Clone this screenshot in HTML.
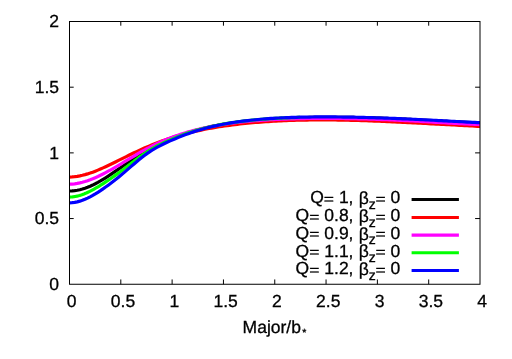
<!DOCTYPE html>
<html><head><meta charset="utf-8"><title>plot</title>
<style>
html,body{margin:0;padding:0;background:#fff;}
body{width:512px;height:359px;overflow:hidden;position:relative;}
svg text{font-family:"Liberation Sans",sans-serif;fill:#000;stroke:#000;stroke-width:0.3px;text-rendering:geometricPrecision;font-kerning:none;white-space:pre;}
</style></head><body>
<svg width="512" height="359" viewBox="0 0 512 359" style="position:absolute;left:0;top:0;will-change:transform;opacity:0.999">
<rect width="512" height="359" fill="#fff"/>
<path d="M120.81,284.25 v-4.8 M120.81,21.5 v4.2 M172.12,284.25 v-4.8 M172.12,21.5 v4.2 M223.44,284.25 v-4.8 M223.44,21.5 v4.2 M274.75,284.25 v-4.8 M274.75,21.5 v4.2 M326.06,284.25 v-4.8 M326.06,21.5 v4.2 M377.38,284.25 v-4.8 M377.38,21.5 v4.2 M428.69,284.25 v-4.8 M428.69,21.5 v4.2 M69.5,218.56 h4.2 M480.0,218.56 h-4.9 M69.5,152.88 h4.2 M480.0,152.88 h-4.9 M69.5,87.19 h4.2 M480.0,87.19 h-4.9" stroke="#000" stroke-width="1" fill="none"/>
<clipPath id="c"><rect x="69.5" y="21.5" width="410.5" height="262.75"/></clipPath>
<g clip-path="url(#c)" fill="none" stroke-linejoin="round">
<path d="M69.50,191.00 L72.08,190.91 L74.66,190.67 L77.25,190.28 L79.83,189.74 L82.41,189.07 L84.99,188.25 L87.57,187.31 L90.15,186.24 L92.74,185.07 L95.32,183.78 L97.90,182.41 L100.48,180.95 L103.06,179.41 L105.64,177.81 L108.23,176.15 L110.81,174.44 L113.39,172.70 L115.97,170.93 L118.55,169.15 L121.14,167.35 L123.72,165.56 L126.30,163.77 L128.88,162.00 L131.46,160.24 L134.04,158.52 L136.63,156.83 L139.21,155.18 L141.79,153.57 L144.37,152.01 L146.95,150.49 L149.53,149.03 L152.12,147.61 L154.70,146.25 L157.28,144.94 L159.86,143.67 L162.44,142.46 L165.03,141.29 L167.61,140.17 L170.19,139.09 L172.77,138.05 L175.35,137.05 L177.93,136.09 L180.52,135.17 L183.10,134.29 L185.68,133.44 L188.26,132.62 L190.84,131.84 L193.42,131.09 L196.01,130.37 L198.59,129.68 L201.17,129.02 L203.75,128.39 L206.33,127.78 L208.92,127.20 L211.50,126.64 L214.08,126.11 L216.66,125.60 L219.24,125.11 L221.82,124.65 L224.41,124.20 L226.99,123.78 L229.57,123.37 L232.15,122.98 L234.73,122.62 L237.31,122.26 L239.90,121.93 L242.48,121.61 L245.06,121.30 L247.64,121.02 L250.22,120.74 L252.81,120.48 L255.39,120.23 L257.97,120.00 L260.55,119.78 L263.13,119.57 L265.71,119.37 L268.30,119.18 L270.88,119.00 L273.46,118.84 L276.04,118.68 L278.62,118.53 L281.20,118.39 L283.79,118.27 L286.37,118.15 L288.95,118.04 L291.53,117.93 L294.11,117.84 L296.69,117.75 L299.28,117.67 L301.86,117.60 L304.44,117.53 L307.02,117.48 L309.60,117.42 L312.19,117.38 L314.77,117.34 L317.35,117.31 L319.93,117.28 L322.51,117.26 L325.09,117.25 L327.68,117.24 L330.26,117.24 L332.84,117.24 L335.42,117.25 L338.00,117.26 L340.58,117.28 L343.17,117.30 L345.75,117.33 L348.33,117.37 L350.91,117.40 L353.49,117.45 L356.08,117.49 L358.66,117.55 L361.24,117.60 L363.82,117.67 L366.40,117.73 L368.98,117.80 L371.57,117.88 L374.15,117.96 L376.73,118.04 L379.31,118.13 L381.89,118.22 L384.47,118.31 L387.06,118.41 L389.64,118.51 L392.22,118.62 L394.80,118.73 L397.38,118.84 L399.97,118.95 L402.55,119.07 L405.13,119.19 L407.71,119.32 L410.29,119.45 L412.87,119.57 L415.46,119.71 L418.04,119.84 L420.62,119.98 L423.20,120.11 L425.78,120.25 L428.36,120.39 L430.95,120.54 L433.53,120.68 L436.11,120.82 L438.69,120.96 L441.27,121.11 L443.86,121.25 L446.44,121.39 L449.02,121.54 L451.60,121.68 L454.18,121.81 L456.76,121.95 L459.35,122.09 L461.93,122.22 L464.51,122.35 L467.09,122.47 L469.67,122.59 L472.25,122.71 L474.84,122.82 L477.42,122.92 L480.00,123.02" stroke="#000000" stroke-width="3.2"/>
<path d="M69.50,177.05 L72.08,176.94 L74.66,176.70 L77.25,176.35 L79.83,175.88 L82.41,175.31 L84.99,174.65 L87.57,173.90 L90.15,173.06 L92.74,172.15 L95.32,171.17 L97.90,170.13 L100.48,169.03 L103.06,167.89 L105.64,166.71 L108.23,165.50 L110.81,164.26 L113.39,162.99 L115.97,161.72 L118.55,160.44 L121.14,159.15 L123.72,157.86 L126.30,156.58 L128.88,155.31 L131.46,154.05 L134.04,152.81 L136.63,151.59 L139.21,150.39 L141.79,149.21 L144.37,148.06 L146.95,146.94 L149.53,145.85 L152.12,144.79 L154.70,143.75 L157.28,142.75 L159.86,141.78 L162.44,140.84 L165.03,139.93 L167.61,139.05 L170.19,138.20 L172.77,137.38 L175.35,136.58 L177.93,135.82 L180.52,135.08 L183.10,134.37 L185.68,133.68 L188.26,133.02 L190.84,132.38 L193.42,131.77 L196.01,131.18 L198.59,130.61 L201.17,130.07 L203.75,129.54 L206.33,129.04 L208.92,128.55 L211.50,128.08 L214.08,127.63 L216.66,127.20 L219.24,126.79 L221.82,126.39 L224.41,126.01 L226.99,125.64 L229.57,125.29 L232.15,124.96 L234.73,124.63 L237.31,124.32 L239.90,124.03 L242.48,123.75 L245.06,123.48 L247.64,123.22 L250.22,122.97 L252.81,122.74 L255.39,122.52 L257.97,122.30 L260.55,122.10 L263.13,121.91 L265.71,121.73 L268.30,121.56 L270.88,121.40 L273.46,121.25 L276.04,121.10 L278.62,120.97 L281.20,120.85 L283.79,120.73 L286.37,120.62 L288.95,120.52 L291.53,120.43 L294.11,120.35 L296.69,120.27 L299.28,120.21 L301.86,120.15 L304.44,120.09 L307.02,120.05 L309.60,120.01 L312.19,119.98 L314.77,119.96 L317.35,119.94 L319.93,119.93 L322.51,119.93 L325.09,119.93 L327.68,119.94 L330.26,119.96 L332.84,119.98 L335.42,120.01 L338.00,120.04 L340.58,120.08 L343.17,120.12 L345.75,120.17 L348.33,120.23 L350.91,120.29 L353.49,120.36 L356.08,120.43 L358.66,120.50 L361.24,120.58 L363.82,120.67 L366.40,120.76 L368.98,120.85 L371.57,120.94 L374.15,121.04 L376.73,121.15 L379.31,121.25 L381.89,121.36 L384.47,121.47 L387.06,121.59 L389.64,121.70 L392.22,121.82 L394.80,121.94 L397.38,122.07 L399.97,122.19 L402.55,122.32 L405.13,122.45 L407.71,122.58 L410.29,122.71 L412.87,122.84 L415.46,122.97 L418.04,123.10 L420.62,123.24 L423.20,123.37 L425.78,123.51 L428.36,123.64 L430.95,123.78 L433.53,123.92 L436.11,124.05 L438.69,124.19 L441.27,124.33 L443.86,124.46 L446.44,124.60 L449.02,124.74 L451.60,124.88 L454.18,125.02 L456.76,125.16 L459.35,125.30 L461.93,125.44 L464.51,125.58 L467.09,125.72 L469.67,125.87 L472.25,126.01 L474.84,126.16 L477.42,126.31 L480.00,126.46" stroke="#ff0000" stroke-width="3.2"/>
<path d="M69.50,184.17 L72.08,184.06 L74.66,183.81 L77.25,183.43 L79.83,182.93 L82.41,182.31 L84.99,181.57 L87.57,180.73 L90.15,179.80 L92.74,178.78 L95.32,177.67 L97.90,176.50 L100.48,175.26 L103.06,173.96 L105.64,172.61 L108.23,171.21 L110.81,169.78 L113.39,168.32 L115.97,166.82 L118.55,165.31 L121.14,163.78 L123.72,162.23 L126.30,160.68 L128.88,159.12 L131.46,157.57 L134.04,156.03 L136.63,154.50 L139.21,152.99 L141.79,151.51 L144.37,150.07 L146.95,148.66 L149.53,147.29 L152.12,145.97 L154.70,144.69 L157.28,143.45 L159.86,142.26 L162.44,141.12 L165.03,140.02 L167.61,138.96 L170.19,137.95 L172.77,136.97 L175.35,136.03 L177.93,135.14 L180.52,134.27 L183.10,133.45 L185.68,132.66 L188.26,131.90 L190.84,131.18 L193.42,130.48 L196.01,129.82 L198.59,129.19 L201.17,128.58 L203.75,128.00 L206.33,127.45 L208.92,126.93 L211.50,126.42 L214.08,125.94 L216.66,125.48 L219.24,125.05 L221.82,124.63 L224.41,124.24 L226.99,123.86 L229.57,123.50 L232.15,123.16 L234.73,122.84 L237.31,122.53 L239.90,122.24 L242.48,121.96 L245.06,121.70 L247.64,121.45 L250.22,121.21 L252.81,120.99 L255.39,120.78 L257.97,120.58 L260.55,120.39 L263.13,120.21 L265.71,120.04 L268.30,119.89 L270.88,119.74 L273.46,119.60 L276.04,119.47 L278.62,119.35 L281.20,119.24 L283.79,119.14 L286.37,119.04 L288.95,118.95 L291.53,118.87 L294.11,118.79 L296.69,118.73 L299.28,118.67 L301.86,118.61 L304.44,118.56 L307.02,118.52 L309.60,118.49 L312.19,118.46 L314.77,118.43 L317.35,118.41 L319.93,118.40 L322.51,118.39 L325.09,118.39 L327.68,118.39 L330.26,118.40 L332.84,118.41 L335.42,118.43 L338.00,118.45 L340.58,118.48 L343.17,118.51 L345.75,118.55 L348.33,118.59 L350.91,118.64 L353.49,118.69 L356.08,118.74 L358.66,118.80 L361.24,118.87 L363.82,118.93 L366.40,119.01 L368.98,119.08 L371.57,119.16 L374.15,119.25 L376.73,119.34 L379.31,119.43 L381.89,119.53 L384.47,119.63 L387.06,119.74 L389.64,119.84 L392.22,119.96 L394.80,120.07 L397.38,120.19 L399.97,120.31 L402.55,120.44 L405.13,120.57 L407.71,120.70 L410.29,120.84 L412.87,120.97 L415.46,121.11 L418.04,121.25 L420.62,121.40 L423.20,121.54 L425.78,121.69 L428.36,121.84 L430.95,121.99 L433.53,122.14 L436.11,122.29 L438.69,122.44 L441.27,122.59 L443.86,122.74 L446.44,122.89 L449.02,123.04 L451.60,123.19 L454.18,123.33 L456.76,123.47 L459.35,123.61 L461.93,123.75 L464.51,123.88 L467.09,124.01 L469.67,124.13 L472.25,124.25 L474.84,124.36 L477.42,124.47 L480.00,124.56" stroke="#ff00ff" stroke-width="3.2"/>
<path d="M69.50,197.06 L70.95,197.00 L72.40,196.88 L73.85,196.70 L75.30,196.46 L76.75,196.17 L78.20,195.82 L79.65,195.43 L81.10,194.98 L82.55,194.48 L84.00,193.94 L85.45,193.35 L86.90,192.72 L88.35,192.06 L89.80,191.36 L91.25,190.62 L92.69,189.85 L94.14,189.06 L95.59,188.23 L97.04,187.38 L98.49,186.51 L99.94,185.62 L101.39,184.71 L102.84,183.79 L104.29,182.84 L105.74,181.89 L107.19,180.92 L108.64,179.94 L110.09,178.95 L111.54,177.95 L112.99,176.93 L114.44,175.91 L115.89,174.88 L117.34,173.84 L118.79,172.78 L120.24,171.72 L121.69,170.64 L123.14,169.56 L124.59,168.46 L126.04,167.36 L127.49,166.24 L128.94,165.13 L130.39,164.00 L131.84,162.88 L133.29,161.76 L134.74,160.64 L136.19,159.53 L137.64,158.44 L139.08,157.36 L140.53,156.29 L141.98,155.25 L143.43,154.23 L144.88,153.24 L146.33,152.27 L147.78,151.33 L149.23,150.42 L150.68,149.53 L152.13,148.68 L153.58,147.85 L155.03,147.05 L156.48,146.27 L157.93,145.51 L159.38,144.78 L160.83,144.06 L162.28,143.37 L163.73,142.68 L165.18,142.02 L166.63,141.37 L168.08,140.73 L169.53,140.10 L170.98,139.48 L172.43,138.87 L173.88,138.27 L175.33,137.69 L176.78,137.11 L178.23,136.54 L179.68,135.99 L181.13,135.44 L182.58,134.90 L184.03,134.38 L185.47,133.87 L186.92,133.36 L188.37,132.87 L189.82,132.39 L191.27,131.92 L192.72,131.46 L194.17,131.01 L195.62,130.58 L197.07,130.15 L198.52,129.74 L199.97,129.33 L201.42,128.94 L202.87,128.55 L204.32,128.18 L205.77,127.82 L207.22,127.46 L208.67,127.11 L210.12,126.78 L211.57,126.45 L213.02,126.13 L214.47,125.82 L215.92,125.52 L217.37,125.22 L218.82,124.94 L220.27,124.66 L221.72,124.39 L223.17,124.12 L224.62,123.87 L226.07,123.62 L227.52,123.37 L228.97,123.14 L230.42,122.91 L231.86,122.69 L233.31,122.47 L234.76,122.26 L236.21,122.06 L237.66,121.86 L239.11,121.67 L240.56,121.48 L242.01,121.30 L243.46,121.12 L244.91,120.95 L246.36,120.78 L247.81,120.62 L249.26,120.47 L250.71,120.32 L252.16,120.17 L253.61,120.03 L255.06,119.89 L256.51,119.76 L257.96,119.63 L259.41,119.51 L260.86,119.38 L262.31,119.27 L263.76,119.16 L265.21,119.05 L266.66,118.94 L268.11,118.84 L269.56,118.74 L271.01,118.65 L272.46,118.56 L273.91,118.47 L275.36,118.38 L276.81,118.30 L278.25,118.23 L279.70,118.15 L281.15,118.08 L282.60,118.01 L284.05,117.94 L285.50,117.88 L286.95,117.82 L288.40,117.76 L289.85,117.71 L291.30,117.65 L292.75,117.60 L294.20,117.56 L295.65,117.51 L297.10,117.47 L298.55,117.43 L300.00,117.39" stroke="#00ff00" stroke-width="3.2"/>
<path d="M69.50,202.84 L72.08,202.70 L74.66,202.37 L77.25,201.86 L79.83,201.17 L82.41,200.31 L84.99,199.30 L87.57,198.14 L90.15,196.86 L92.74,195.45 L95.32,193.94 L97.90,192.33 L100.48,190.65 L103.06,188.88 L105.64,187.06 L108.23,185.17 L110.81,183.24 L113.39,181.25 L115.97,179.22 L118.55,177.14 L121.14,175.02 L123.72,172.85 L126.30,170.64 L128.88,168.41 L131.46,166.16 L134.04,163.93 L136.63,161.72 L139.21,159.57 L141.79,157.49 L144.37,155.51 L146.95,153.63 L149.53,151.87 L152.12,150.21 L154.70,148.66 L157.28,147.20 L159.86,145.82 L162.44,144.52 L165.03,143.27 L167.61,142.07 L170.19,140.90 L172.77,139.77 L175.35,138.67 L177.93,137.60 L180.52,136.56 L183.10,135.55 L185.68,134.58 L188.26,133.64 L190.84,132.74 L193.42,131.87 L196.01,131.04 L198.59,130.25 L201.17,129.49 L203.75,128.76 L206.33,128.07 L208.92,127.40 L211.50,126.77 L214.08,126.17 L216.66,125.59 L219.24,125.04 L221.82,124.52 L224.41,124.02 L226.99,123.55 L229.57,123.10 L232.15,122.68 L234.73,122.27 L237.31,121.89 L239.90,121.52 L242.48,121.18 L245.06,120.85 L247.64,120.54 L250.22,120.25 L252.81,119.98 L255.39,119.72 L257.97,119.48 L260.55,119.25 L263.13,119.03 L265.71,118.83 L268.30,118.64 L270.88,118.47 L273.46,118.30 L276.04,118.15 L278.62,118.01 L281.20,117.88 L283.79,117.76 L286.37,117.64 L288.95,117.54 L291.53,117.45 L294.11,117.37 L296.69,117.29 L299.28,117.22 L301.86,117.16 L304.44,117.11 L307.02,117.06 L309.60,117.03 L312.19,116.99 L314.77,116.97 L317.35,116.95 L319.93,116.94 L322.51,116.93 L325.09,116.92 L327.68,116.93 L330.26,116.94 L332.84,116.95 L335.42,116.97 L338.00,116.99 L340.58,117.02 L343.17,117.05 L345.75,117.09 L348.33,117.13 L350.91,117.17 L353.49,117.22 L356.08,117.27 L358.66,117.33 L361.24,117.39 L363.82,117.45 L366.40,117.52 L368.98,117.59 L371.57,117.66 L374.15,117.74 L376.73,117.82 L379.31,117.90 L381.89,117.99 L384.47,118.08 L387.06,118.17 L389.64,118.27 L392.22,118.37 L394.80,118.47 L397.38,118.58 L399.97,118.68 L402.55,118.79 L405.13,118.90 L407.71,119.02 L410.29,119.14 L412.87,119.25 L415.46,119.38 L418.04,119.50 L420.62,119.62 L423.20,119.75 L425.78,119.88 L428.36,120.01 L430.95,120.14 L433.53,120.27 L436.11,120.41 L438.69,120.54 L441.27,120.68 L443.86,120.82 L446.44,120.95 L449.02,121.09 L451.60,121.23 L454.18,121.36 L456.76,121.50 L459.35,121.63 L461.93,121.77 L464.51,121.90 L467.09,122.03 L469.67,122.16 L472.25,122.29 L474.84,122.41 L477.42,122.54 L480.00,122.66" stroke="#0000ff" stroke-width="3.2"/>
</g>
<path d="M411.6,199.5 H458.9" stroke="#000000" stroke-width="3.05" fill="none"/>
<text x="310.17" y="203.20" font-size="17.5">Q<tspan visibility="hidden">=</tspan> 1, <tspan dy="0.9" dx="0.3">β</tspan><tspan font-size="14.0" dy="4.7" dx="-0.1">z</tspan><tspan dy="-5.6" dx="-0.2" visibility="hidden">=</tspan> 0</text>
<text transform="translate(323.78,203.68) scale(1,0.83)" font-size="17.5" stroke="#000" stroke-width="0.5">=</text>
<text transform="translate(375.39,203.68) scale(1,0.83)" font-size="17.5" stroke="#000" stroke-width="0.5">=</text>
<path d="M411.6,217.4 H458.9" stroke="#ff0000" stroke-width="3.05" fill="none"/>
<text x="295.57" y="221.10" font-size="17.5">Q<tspan visibility="hidden">=</tspan> 0.8, <tspan dy="0.9" dx="0.3">β</tspan><tspan font-size="14.0" dy="4.7" dx="-0.1">z</tspan><tspan dy="-5.6" dx="-0.2" visibility="hidden">=</tspan> 0</text>
<text transform="translate(309.19,221.58) scale(1,0.83)" font-size="17.5" stroke="#000" stroke-width="0.5">=</text>
<text transform="translate(375.39,221.58) scale(1,0.83)" font-size="17.5" stroke="#000" stroke-width="0.5">=</text>
<path d="M411.6,235.1 H458.9" stroke="#ff00ff" stroke-width="3.05" fill="none"/>
<text x="295.57" y="238.80" font-size="17.5">Q<tspan visibility="hidden">=</tspan> 0.9, <tspan dy="0.9" dx="0.3">β</tspan><tspan font-size="14.0" dy="4.7" dx="-0.1">z</tspan><tspan dy="-5.6" dx="-0.2" visibility="hidden">=</tspan> 0</text>
<text transform="translate(309.19,239.28) scale(1,0.83)" font-size="17.5" stroke="#000" stroke-width="0.5">=</text>
<text transform="translate(375.39,239.28) scale(1,0.83)" font-size="17.5" stroke="#000" stroke-width="0.5">=</text>
<path d="M411.6,252.8 H458.9" stroke="#00ff00" stroke-width="3.05" fill="none"/>
<text x="295.57" y="256.50" font-size="17.5">Q<tspan visibility="hidden">=</tspan> 1.1, <tspan dy="0.9" dx="0.3">β</tspan><tspan font-size="14.0" dy="4.7" dx="-0.1">z</tspan><tspan dy="-5.6" dx="-0.2" visibility="hidden">=</tspan> 0</text>
<text transform="translate(309.19,256.98) scale(1,0.83)" font-size="17.5" stroke="#000" stroke-width="0.5">=</text>
<text transform="translate(375.39,256.98) scale(1,0.83)" font-size="17.5" stroke="#000" stroke-width="0.5">=</text>
<path d="M411.6,270.5 H458.9" stroke="#0000ff" stroke-width="3.05" fill="none"/>
<text x="295.57" y="274.20" font-size="17.5">Q<tspan visibility="hidden">=</tspan> 1.2, <tspan dy="0.9" dx="0.3">β</tspan><tspan font-size="14.0" dy="4.7" dx="-0.1">z</tspan><tspan dy="-5.6" dx="-0.2" visibility="hidden">=</tspan> 0</text>
<text transform="translate(309.19,274.68) scale(1,0.83)" font-size="17.5" stroke="#000" stroke-width="0.5">=</text>
<text transform="translate(375.39,274.68) scale(1,0.83)" font-size="17.5" stroke="#000" stroke-width="0.5">=</text>
<rect x="69.5" y="21.5" width="410.5" height="262.75" fill="none" stroke="#000" stroke-width="1"/>
<text x="71.70" y="307.2" text-anchor="middle" font-size="17.5">0</text>
<text x="123.01" y="307.2" text-anchor="middle" font-size="17.5">0.5</text>
<text x="174.32" y="307.2" text-anchor="middle" font-size="17.5">1</text>
<text x="225.64" y="307.2" text-anchor="middle" font-size="17.5">1.5</text>
<text x="276.95" y="307.2" text-anchor="middle" font-size="17.5">2</text>
<text x="328.26" y="307.2" text-anchor="middle" font-size="17.5">2.5</text>
<text x="379.57" y="307.2" text-anchor="middle" font-size="17.5">3</text>
<text x="430.89" y="307.2" text-anchor="middle" font-size="17.5">3.5</text>
<text x="482.20" y="307.2" text-anchor="middle" font-size="17.5">4</text>
<text x="59.05" y="289.95" text-anchor="end" font-size="17.5">0</text>
<text x="59.05" y="224.26" text-anchor="end" font-size="17.5">0.5</text>
<text x="59.05" y="158.57" text-anchor="end" font-size="17.5">1</text>
<text x="59.05" y="92.89" text-anchor="end" font-size="17.5">1.5</text>
<text x="59.05" y="27.20" text-anchor="end" font-size="17.5">2</text>
<text x="242.6" y="332.6" font-size="17.5">Major/b</text>
<text x="302.15" y="335.6" font-size="10.5">*</text>
</svg>
</body></html>
